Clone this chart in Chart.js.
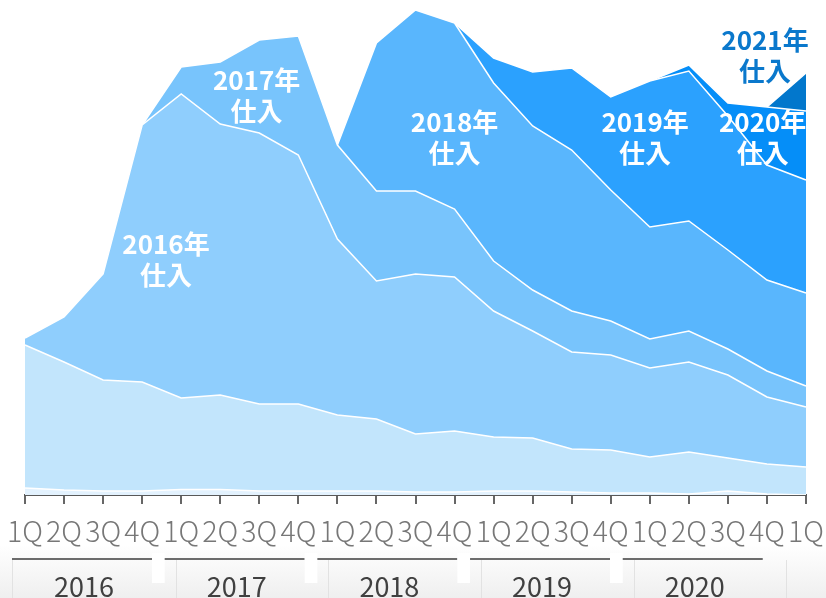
<!DOCTYPE html>
<html lang="ja">
<head>
<meta charset="utf-8">
<script src="https://cdn.jsdelivr.net/npm/chart.js@4.4.1/dist/chart.umd.min.js"></script>
<style>
    html, body { margin: 0; padding: 0; background: #fff; }
    #cadre { width: 826px; height: 598px; position: relative; }
</style>
</head>
<body>
<div id="cadre"><canvas id="stockChart" width="826" height="598"></canvas></div>
<script>
    ///////////////////////////////////////////////////////////////
    //////////////////////// Données //////////////////////////////

    // Trimestres de 1Q 2016 à 1Q 2021 et années regroupées sous l'axe
    const trimestres = ["1Q","2Q","3Q","4Q","1Q","2Q","3Q","4Q","1Q","2Q","3Q","4Q","1Q","2Q","3Q","4Q","1Q","2Q","3Q","4Q","1Q"];
    const annees = ["2016", "2017", "2018", "2019", "2020"];

    // Stock par année d'achat (empilé, du bas vers le haut)
    const stockAncien = [1.4,1.0,0.8,0.8,1.1,1.1,0.8,0.8,0.8,0.8,0.6,0.6,0.8,0.8,0.6,0.4,0.4,0.2,0.8,0.2,0.0];
    const stock2015   = [28.6,25.6,22.2,21.8,18.3,18.9,17.4,17.4,15.2,14.4,11.6,12.2,10.8,10.6,8.6,8.6,7.2,8.4,6.6,6.0,5.6];
    const stock2016   = [1.4,9.0,21.2,51.4,60.8,54.2,54.2,49.8,35.2,27.6,32.0,30.8,25.2,21.4,19.4,19.0,17.8,18.0,16.6,13.4,12.0];
    const stock2017   = [0,0,0,0,5.4,12.4,18.6,23.8,18.8,18.0,16.6,13.6,10.0,8.2,8.2,6.8,5.8,6.2,5.2,5.2,4.2];
    const stock2018   = [0,0,0,0,0,0,0,0,0,29.6,36.2,37.2,35.6,32.8,32.2,26.2,22.4,22.0,19.8,18.2,18.6];
    const stock2019   = [0,0,0,0,0,0,0,0,0,0,0,0,5.0,10.8,16.4,18.6,29.2,30.0,26.8,23.0,22.6];
    const stock2020   = [0,0,0,0,0,0,0,0,0,0,0,0,0,0,0,0,0,1.2,2.6,11.6,13.8];
    const stock2021   = [0,0,0,0,0,0,0,0,0,0,0,0,0,0,0,0,0,0,0,0,7.6];

    const series = [
        { nom: "それ以前",    valeurs: stockAncien, couleur: "#e3f2fe" },
        { nom: "2015年仕入", valeurs: stock2015,   couleur: "#c2e5fc" },
        { nom: "2016年仕入", valeurs: stock2016,   couleur: "#8fcefd" },
        { nom: "2017年仕入", valeurs: stock2017,   couleur: "#78c4fc" },
        { nom: "2018年仕入", valeurs: stock2018,   couleur: "#59b6fd" },
        { nom: "2019年仕入", valeurs: stock2019,   couleur: "#2ba1fe" },
        { nom: "2020年仕入", valeurs: stock2020,   couleur: "#058ef8" },
        { nom: "2021年仕入", valeurs: stock2021,   couleur: "#0277cc" }
    ];

    // Étiquettes posées dans les aires (position en index de trimestre / valeur empilée)
    const etiquettes = [
        { lignes: ["2016年", "仕入"], x: 3.61,  y: 47.1, couleur: "#ffffff" },
        { lignes: ["2017年", "仕入"], x: 5.93,  y: 79.9, couleur: "#ffffff" },
        { lignes: ["2018年", "仕入"], x: 11.0,  y: 71.5, couleur: "#ffffff" },
        { lignes: ["2019年", "仕入"], x: 15.88, y: 71.5, couleur: "#ffffff" },
        { lignes: ["2020年", "仕入"], x: 18.89, y: 71.5, couleur: "#ffffff" },
        { lignes: ["2021年", "仕入"], x: 18.95, y: 87.9, couleur: "#0a78cc" }
    ];

    const policeJP = "'Noto Sans CJK JP', 'Noto Sans', sans-serif";


    ///////////////////////////////////////////////////////////////
    ///////////////////////// Plugins /////////////////////////////

    // Fond grisé + axe des années sous les trimestres
    const axeAnnees = {
        id: "axeAnnees",
        beforeDraw(chart) {
            const ctx = chart.ctx;
            const grad = ctx.createLinearGradient(0, 545, 0, 598);
            grad.addColorStop(0, "#ffffff");
            grad.addColorStop(1, "#efefef");
            ctx.save();
            ctx.fillStyle = grad;
            ctx.fillRect(0, 545, chart.width, 53);
            ctx.restore();
        },
        afterDraw(chart) {
            const ctx = chart.ctx;
            const x = chart.scales.x;
            const pas = (x.getPixelForValue(20) - x.getPixelForValue(0)) / 20;
            const debut = x.getPixelForValue(0) - 13;
            const largeurGroupe = 3.91 * pas;

            ctx.save();
            // séparateurs verticaux discrets
            ctx.strokeStyle = "#e2e2e2";
            ctx.lineWidth = 1;
            for (let k = 0; k <= annees.length; k++) {
                const xv = Math.round(debut + k * largeurGroupe + (k > 0 ? 11 : 0)) + 0.5;
                ctx.beginPath();
                ctx.moveTo(xv, 560);
                ctx.lineTo(xv, 598);
                ctx.stroke();
            }
            annees.forEach((an, k) => {
                const gauche = debut + k * largeurGroupe;
                const droite = gauche + 140;
                // trait du groupe
                ctx.strokeStyle = "#3c3c3c";
                ctx.lineWidth = 1.5;
                ctx.beginPath();
                ctx.moveTo(gauche, 559);
                ctx.lineTo(droite, 559);
                ctx.stroke();
                // case blanche entre deux groupes
                if (k < annees.length - 1) {
                    ctx.fillStyle = "#ffffff";
                    ctx.fillRect(droite, 553, largeurGroupe - 140, 30);
                }
                // année
                ctx.fillStyle = "#404040";
                ctx.font = "27px " + policeJP;
                ctx.textAlign = "center";
                ctx.textBaseline = "middle";
                ctx.fillText(an, (gauche + droite) / 2 + 2, 587);
            });
            ctx.restore();
        }
    };

    // Textes « 20xx年 仕入 » dans les aires
    const textesAires = {
        id: "textesAires",
        afterDatasetsDraw(chart) {
            const ctx = chart.ctx;
            const sx = chart.scales.x;
            const sy = chart.scales.y;
            ctx.save();
            ctx.font = "bold 26px " + policeJP;
            ctx.textAlign = "center";
            ctx.textBaseline = "middle";
            etiquettes.forEach(e => {
                const px = sx.getPixelForValue(e.x);
                const py = sy.getPixelForValue(e.y);
                ctx.fillStyle = e.couleur;
                ctx.fillText(e.lignes[0], px, py - 15.5);
                ctx.fillText(e.lignes[1], px, py + 15.5);
            });
            ctx.restore();
        }
    };


    ///////////////////////////////////////////////////////////////
    ////////////////////////// Graphe /////////////////////////////

    const ctx = document.getElementById("stockChart").getContext("2d");
    new Chart(ctx, {
        type: "line",
        data: {
            labels: trimestres,
            datasets: series.map((s, i) => ({
                label: s.nom,
                data: s.valeurs,
                backgroundColor: s.couleur,
                borderColor: "#ffffff",
                borderWidth: 1.5,
                fill: i === 0 ? "origin" : "-1",
                pointRadius: 0,
                tension: 0
            }))
        },
        options: {
            responsive: false,
            animation: false,
            layout: { padding: { left: 25, right: 20, top: 0, bottom: 0 } },
            plugins: {
                legend: { display: false },
                tooltip: { enabled: false }
            },
            scales: {
                x: {
                    offset: false,
                    grid: { drawOnChartArea: false, drawTicks: true, tickLength: 9, color: "#666666", lineWidth: 2 },
                    border: { color: "#595959", width: 2 },
                    ticks: {
                        autoSkip: false,
                        maxRotation: 0,
                        padding: 10,
                        color: "#777777",
                        font: { family: policeJP, size: 28.5, weight: "300" }
                    },
                    afterFit: scale => {
                        // hauteur fixe et pas de marge due aux libellés des bords
                        scale.height = 103;
                        scale.paddingLeft = 0;
                        scale.paddingRight = 0;
                    }
                },
                y: { display: false, stacked: true, min: 0, max: 99 }
            }
        },
        plugins: [axeAnnees, textesAires]
    });
</script>
</body>
</html>
